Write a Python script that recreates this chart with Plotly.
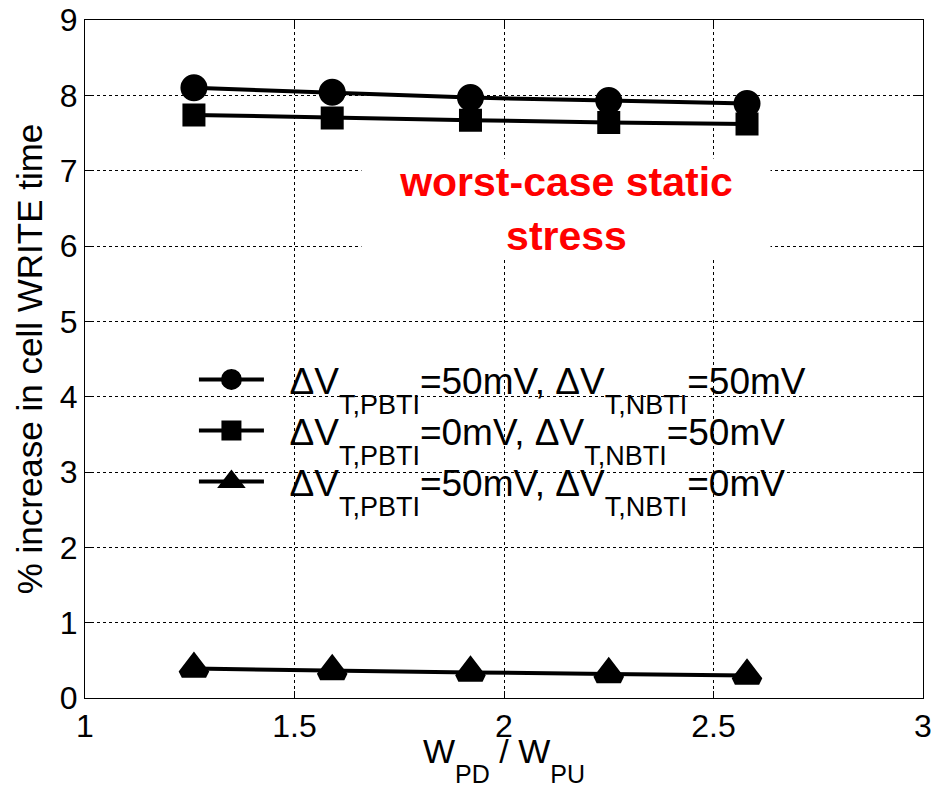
import plotly.graph_objects as go

ratio = [1.26, 1.59, 1.92, 2.25, 2.58]
both_50 = [8.10, 8.04, 7.97, 7.93, 7.89]
nbti_only = [7.74, 7.70, 7.67, 7.64, 7.62]
pbti_only = [0.39, 0.36, 0.34, 0.32, 0.30]

SUB = '<span style="font-size:27px;baseline-shift:-20px">{}</span>'
PAD = "\u00a0\u00a0"
names = [
    PAD + "ΔV" + SUB.format("T,PBTI") + "=50mV, ΔV" + SUB.format("T,NBTI") + "=50mV",
    PAD + "ΔV" + SUB.format("T,PBTI") + "=0mV, ΔV" + SUB.format("T,NBTI") + "=50mV",
    PAD + "ΔV" + SUB.format("T,PBTI") + "=50mV, ΔV" + SUB.format("T,NBTI") + "=0mV",
]
series = [both_50, nbti_only, pbti_only]
symbols = ["circle", "square", "triangle-up"]
sizes = [19, 15, 21]

FONT = "Liberation Sans, Arial, sans-serif"

fig = go.Figure()
for i, (ys, sym, sz, nm) in enumerate(zip(series, symbols, sizes, names)):
    fig.add_trace(go.Scatter(
        x=ratio, y=ys, mode="lines+markers", name=nm,
        legendgroup=f"g{i}",
        line=dict(color="black", width=4),
        marker=dict(symbol=sym, size=sz, color="black",
                    line=dict(color="black", width=8)),
    ))

# invisible spacer entry so the last legend row's subscripts are not clipped
fig.add_trace(go.Scatter(
    x=[None], y=[None], mode="lines", name="\u00a0", legendgroup="spacer",
    line=dict(color="rgba(0,0,0,0)", width=0), hoverinfo="skip",
))

axis_common = dict(
    showline=True, linecolor="black", linewidth=1, mirror="ticks",
    ticks="inside", ticklen=7, tickcolor="black",
    showgrid=True, gridcolor="black", gridwidth=1, griddash="3px,3px",
    zeroline=False, automargin=False, ticklabeloverflow="allow",
    tickfont=dict(family=FONT, size=32, color="black"),
)

SUBX = '<span style="font-size:25px;baseline-shift:-20px">{}</span>'
fig.update_xaxes(
    range=[1, 3], tickvals=[1, 1.5, 2, 2.5, 3], ticktext=["1", "1.5", "2", "2.5", "3"],
    title=dict(text="W" + SUBX.format("PD") + " / W" + SUBX.format("PU"),
               font=dict(family=FONT, size=34, color="black")),
    **axis_common,
)
fig.update_yaxes(
    range=[0, 9], tickvals=list(range(10)),
    title=dict(text="% increase in cell WRITE time",
               font=dict(family=FONT, size=35, color="black"), standoff=6),
    **axis_common,
)

fig.add_annotation(
    x=2.148, y=6.49, xref="x", yref="y",
    text="<b>worst-case static<br>stress</b>", showarrow=False,
    font=dict(family=FONT, size=41, color="red"),
    bgcolor="white", width=408, height=100, borderpad=0,
)

fig.update_layout(
    width=934, height=788,
    margin=dict(l=85, r=11, t=20, b=90),
    plot_bgcolor="white", paper_bgcolor="white",
    showlegend=True,
    legend=dict(
        x=0.13, y=0.515, xanchor="left", yanchor="top",
        bgcolor="rgba(0,0,0,0)", borderwidth=0,
        font=dict(family=FONT, size=37, color="black"),
        itemwidth=65, tracegroupgap=0, traceorder="grouped",
        itemsizing="trace",
    ),
)

fig.write_html("out.html")
